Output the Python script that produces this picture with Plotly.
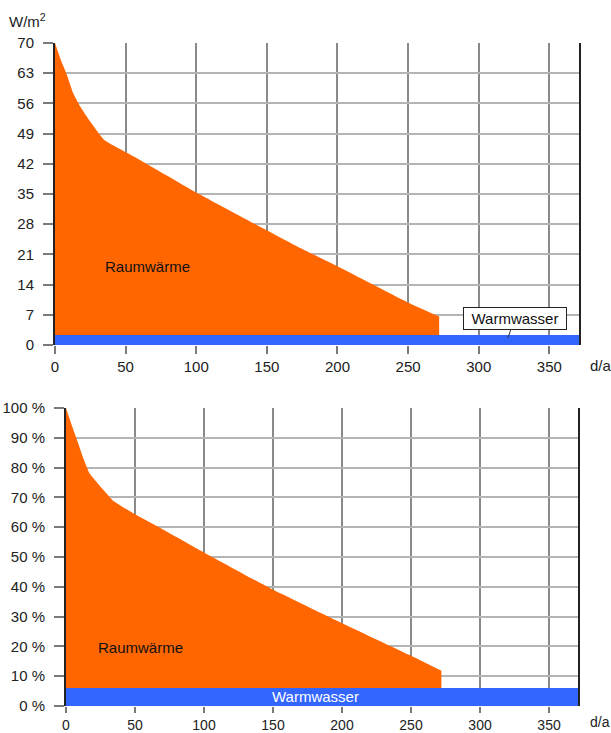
import plotly.graph_objects as go

# Jahresdauerlinie Raumwärme / Warmwasser
days_top = [0, 4, 8, 13, 18, 24, 35, 58, 103, 174, 201, 251, 272]
raum_wm2 = [70, 66.2, 63, 58.3, 55.2, 52.2, 47.5, 43.3, 34.8, 22.4, 18.1, 9.7, 6.6]

days_bottom = [0, 4, 8, 13, 17, 23, 35, 51, 69, 97, 148, 200, 249, 272]
raum_pct = [100, 94.5, 89.3, 82.6, 78.1, 74.7, 68.6, 64.1, 59.6, 52.3, 39.5, 27.8, 17.1, 11.8]

ww_days = [0, 371]
ww_wm2 = [2.3, 2.3]
ww_pct = [6, 6]

x_ticks = [0, 50, 100, 150, 200, 250, 300, 350]
y_ticks_wm2 = [0, 7, 14, 21, 28, 35, 42, 49, 56, 63, 70]
y_ticks_pct = [0, 10, 20, 30, 40, 50, 60, 70, 80, 90, 100]
y_labels_pct = [f"{v} %" for v in y_ticks_pct]

W, H = 611, 733
ORANGE = "#FF6600"
BLUE = "#3366FF"
FONT = "Liberation Sans, Arial, sans-serif"


def px_x(p):
    return p / W


def px_y(p):
    return 1 - p / H


fig = go.Figure()

fig.add_trace(go.Scatter(x=days_top, y=raum_wm2, fill="tozeroy", mode="lines",
                         line=dict(width=0, color=ORANGE, shape="spline", smoothing=0.4),
                         fillcolor=ORANGE, xaxis="x", yaxis="y", showlegend=False))
fig.add_trace(go.Scatter(x=ww_days, y=ww_wm2, fill="tozeroy", mode="lines",
                         line=dict(width=0, color=BLUE), fillcolor=BLUE,
                         xaxis="x", yaxis="y", showlegend=False))
fig.add_trace(go.Scatter(x=days_bottom, y=raum_pct, fill="tozeroy", mode="lines",
                         line=dict(width=0, color=ORANGE, shape="spline", smoothing=0.4),
                         fillcolor=ORANGE, xaxis="x2", yaxis="y2", showlegend=False))
fig.add_trace(go.Scatter(x=ww_days, y=ww_pct, fill="tozeroy", mode="lines",
                         line=dict(width=0, color=BLUE), fillcolor=BLUE,
                         xaxis="x2", yaxis="y2", showlegend=False))

xcommon = dict(range=[0, 371], tickvals=x_ticks, showgrid=True, gridcolor="#8a8a8a",
               gridwidth=1.5, ticks="outside", ticklen=8, tickwidth=1.5,
               tickcolor="#7a7a7a", zeroline=False, showline=False,
               automargin=False, ticklabelstandoff=0, layer="below traces")
ycommon = dict(showgrid=True, gridcolor="#b4b4b4", gridwidth=1.5, ticks="outside",
               ticklen=10, tickwidth=1.5, tickcolor="#7a7a7a", zeroline=False,
               showline=True, linecolor="#222", linewidth=2, mirror=True,
               tickfont=dict(size=15, color="#222"), automargin=False,
               ticklabelstandoff=6, layer="below traces")

fig.update_layout(
    width=W, height=H,
    margin=dict(l=0, r=0, t=0, b=0),
    paper_bgcolor="white", plot_bgcolor="white",
    font=dict(family=FONT, color="#222"),
    xaxis=dict(domain=[px_x(55), px_x(579)], anchor="y",
               tickfont=dict(size=15, color="#222"), **xcommon),
    yaxis=dict(domain=[px_y(345), px_y(43)], anchor="x", range=[0, 70],
               tickvals=y_ticks_wm2, **ycommon),
    xaxis2=dict(domain=[px_x(66), px_x(578)], anchor="y2",
                tickfont=dict(size=14, color="#222"), **xcommon),
    yaxis2=dict(domain=[px_y(706), px_y(408)], anchor="x2", range=[0, 100],
                tickvals=y_ticks_pct, ticktext=y_labels_pct, **ycommon),
)
fig.update_xaxes(ticklen=6, selector=dict(anchor="y2"))

annotations = [
    dict(text="W/m<sup>2</sup>", xref="paper", yref="paper", x=px_x(7), y=px_y(21),
         xanchor="left", yanchor="middle", showarrow=False, font=dict(size=15)),
    dict(text="d/a", xref="paper", yref="paper", x=px_x(588), y=px_y(365),
         xanchor="left", yanchor="middle", showarrow=False, font=dict(size=15)),
    dict(text="d/a", xref="paper", yref="paper", x=px_x(588), y=px_y(722),
         xanchor="left", yanchor="middle", showarrow=False, font=dict(size=14)),
    dict(text="Raumwärme", xref="x", yref="y", x=34.3, y=18.1, xanchor="left",
         yanchor="middle", showarrow=False, font=dict(size=15, color="#111")),
    dict(text="Raumwärme", xref="x2", yref="y2", x=21.5, y=19.5, xanchor="left",
         yanchor="middle", showarrow=False, font=dict(size=15, color="#111")),
    dict(text="Warmwasser", xref="x2", yref="y2", x=181, y=3.2, xanchor="center",
         yanchor="middle", showarrow=False, font=dict(size=15, color="white")),
    dict(text="Warmwasser", xref="x", yref="y", x=320.6, y=1.6, ax=7, ay=-20,
         showarrow=True, arrowhead=0, arrowwidth=1, arrowcolor="#333",
         bgcolor="white", bordercolor="#222", borderwidth=1, borderpad=2,
         width=98, font=dict(size=15, color="#111")),
]
fig.update_layout(annotations=annotations)

fig.write_html("out.html", config={"displayModeBar": False},
               post_script="document.body.style.margin='0';")
